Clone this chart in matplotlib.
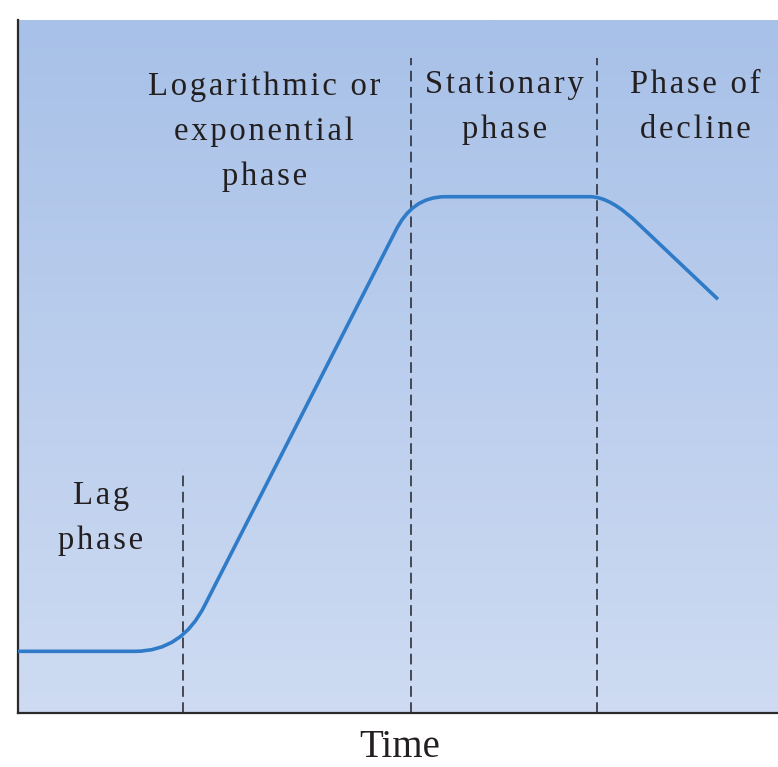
import numpy as np
import matplotlib
matplotlib.use('Agg')
import matplotlib.pyplot as plt
from matplotlib.path import Path
from matplotlib.patches import PathPatch
from matplotlib.colors import LinearSegmentedColormap

# growth curve: straight segments with rounded corners (quadratic bezier control points)
curve_t = [0.0, 15.4, 21.6, 24.6, 49.6, 51.8, 56.2, 75.3, 78.0, 81.8, 92.1]
curve_n = [8.9, 8.9, 8.9, 15.6, 69.4, 74.5, 74.5, 74.5, 74.5, 70.4, 59.7]
curve_codes = [Path.MOVETO, Path.LINETO, Path.CURVE3, Path.CURVE3, Path.LINETO,
               Path.CURVE3, Path.CURVE3, Path.LINETO, Path.CURVE3, Path.CURVE3, Path.LINETO]

# phase boundaries (time) and how high each dashed line reaches
boundary_t = [21.7, 51.7, 76.2]
boundary_top = [35.1, 94.5, 94.5]

phase_labels = [
    ['Lag', 'phase'],
    ['Logarithmic or', 'exponential', 'phase'],
    ['Stationary', 'phase'],
    ['Phase of', 'decline'],
]
label_x = [10.9, 32.4, 64.0, 89.1]
label_y0 = [30.2, 89.2, 89.5, 89.5]
line_step = 6.5

serif = ['Liberation Serif', 'DejaVu Serif']
HAIR = '\u200a'


def spaced(s):
    return HAIR.join(s)


fig = plt.figure(figsize=(7.78, 7.67), dpi=100)
ax = fig.add_axes([18 / 778, 54 / 767, 760 / 778, 693 / 767])
ax.set_xlim(0, 100)
ax.set_ylim(0, 100)

grad = np.linspace(0, 1, 256).reshape(-1, 1)
cmap = LinearSegmentedColormap.from_list('bg', ['#cedbf2', '#a8c1e8'])
ax.imshow(grad, extent=[0, 100, 0, 100], origin='lower', aspect='auto', cmap=cmap, zorder=0)

for t, top in zip(boundary_t, boundary_top):
    ln, = ax.plot([t, t], [0, top], color='#22222a', lw=1.1, zorder=2)
    ln.set_dashes([7, 3.6])

path = Path(np.column_stack([curve_t, curve_n]), curve_codes)
ax.add_patch(PathPatch(path, facecolor='none', edgecolor='#2f7bc8', lw=2.6,
                       capstyle='butt', joinstyle='round', zorder=3))

for lines, x, y0 in zip(phase_labels, label_x, label_y0):
    for i, s in enumerate(lines):
        ax.text(x, y0 - i * line_step, spaced(s), ha='center', va='baseline',
                fontsize=23.5, family=serif, color='#231f20', zorder=4)

ax.set_xticks([])
ax.set_yticks([])
for side in ['top', 'right']:
    ax.spines[side].set_visible(False)
for side in ['left', 'bottom']:
    ax.spines[side].set_color('#2a2a2a')
    ax.spines[side].set_linewidth(1.6)

fig.text(400 / 778, 1 - 757 / 767, 'Time', ha='center', va='baseline',
         fontsize=28, family=serif, color='#231f20')

fig.savefig('out.png', dpi=100)
